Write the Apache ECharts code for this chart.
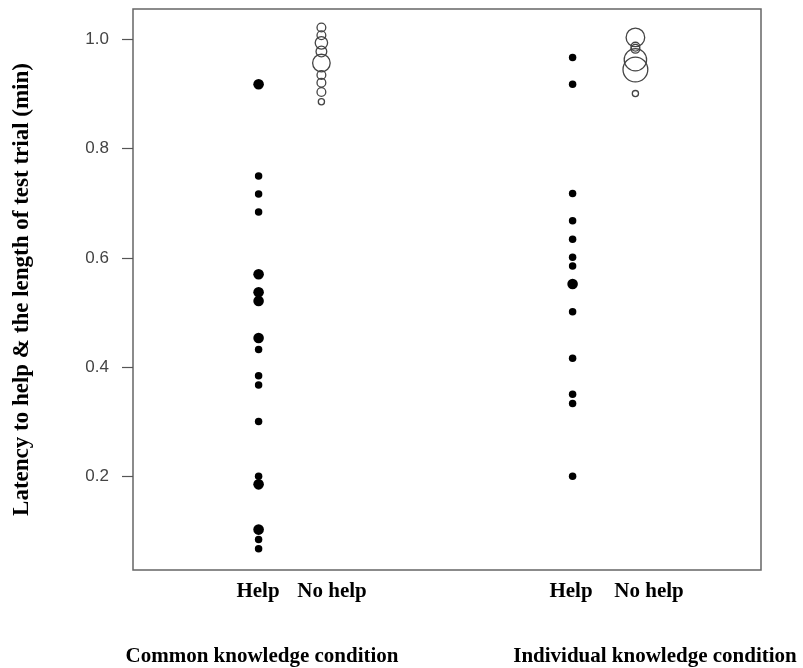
<!DOCTYPE html>
<html>
<head>
<meta charset="utf-8">
<script src="https://cdn.jsdelivr.net/npm/echarts@6/dist/echarts.min.js"></script>
<style>
  html, body { margin: 0; padding: 0; background: #fff; }
  #chart { width: 803px; height: 668px; }
</style>
</head>
<body>
<div id="chart"></div>
<script>
// latency values (min) and number of overlapping observations at each value
const helpCommonY = [0.918, 0.750, 0.717, 0.684, 0.570, 0.537, 0.521, 0.453, 0.432, 0.384, 0.367, 0.300, 0.200, 0.185, 0.102, 0.084, 0.067]
const helpCommonN = [2, 1, 1, 1, 2, 2, 2, 2, 1, 1, 1, 1, 1, 2, 2, 1, 1]
const noHelpCommonY = [1.022, 1.008, 0.994, 0.978, 0.957, 0.935, 0.921, 0.904, 0.886]
const noHelpCommonN = [2, 2, 4, 3, 8, 2, 2, 2, 1]
const helpIndivY = [0.967, 0.918, 0.718, 0.668, 0.634, 0.601, 0.585, 0.552, 0.501, 0.416, 0.350, 0.333, 0.200]
const helpIndivN = [1, 1, 1, 1, 1, 1, 1, 2, 1, 1, 1, 1, 1]
const noHelpIndivY = [1.004, 0.987, 0.983, 0.963, 0.945, 0.901]
const noHelpIndivN = [9, 2, 2, 13, 16, 1]

const yTicks = [0.2, 0.4, 0.6, 0.8, 1.0]
const columnLabels = ['Help', 'No help', 'Help', 'No help']
const conditionLabels = ['Common knowledge condition', 'Individual knowledge condition']
const yTitle = 'Latency to help & the length of test trial (min)'

// column positions on the x axis
const columnX = [0.8, 1.2, 2.8, 3.2]

const serif = '"Liberation Serif", "Times New Roman", serif'

function toPoints(x, ys, ns) {
  return ys.map((y, i) => [x, y, ns[i]])
}

const chart = echarts.init(document.getElementById('chart'))

const filled = {
  type: 'scatter',
  symbol: 'circle',
  symbolSize: v => 7.5 * Math.sqrt(v[2]),
  itemStyle: { color: '#000', opacity: 1 },
  silent: true
}
const hollow = {
  type: 'scatter',
  symbol: 'circle',
  symbolSize: v => 6.2 * Math.sqrt(v[2]),
  itemStyle: { color: 'rgba(0,0,0,0)', borderColor: '#444', borderWidth: 1.3, opacity: 1 },
  silent: true
}

chart.setOption({
  animation: false,
  grid: {
    left: 133, top: 9, right: 42, bottom: 98,
    show: true, borderColor: '#666', borderWidth: 1.5
  },
  xAxis: {
    type: 'value', min: 0, max: 4,
    axisLine: { show: false }, axisTick: { show: false },
    axisLabel: { show: false }, splitLine: { show: false }
  },
  yAxis: {
    type: 'value', min: 0.028, max: 1.056,
    name: yTitle,
    nameLocation: 'middle',
    nameGap: 99,
    nameTextStyle: { fontFamily: serif, fontWeight: 'bold', fontSize: 23, color: '#000' },
    axisLine: { show: false },
    axisTick: { show: true, length: 11, lineStyle: { color: '#555', width: 1.2 }, customValues: yTicks },
    axisLabel: {
      color: '#444', fontSize: 17, margin: 24,
      fontFamily: '"Liberation Sans", Arial, sans-serif',
      customValues: yTicks,
      formatter: v => v.toFixed(1)
    },
    splitLine: { show: false }
  },
  series: [
    Object.assign({ name: 'Help (common)', data: toPoints(columnX[0], helpCommonY, helpCommonN) }, filled),
    Object.assign({ name: 'No help (common)', data: toPoints(columnX[1], noHelpCommonY, noHelpCommonN) }, hollow),
    Object.assign({ name: 'Help (individual)', data: toPoints(columnX[2], helpIndivY, helpIndivN) }, filled),
    Object.assign({ name: 'No help (individual)', data: toPoints(columnX[3], noHelpIndivY, noHelpIndivN) }, hollow)
  ]
})

// text under the plot
const labelX = [258, 332, 571, 649]
const graphics = columnLabels.map((t, i) => ({
  type: 'text', x: labelX[i], y: 592,
  style: { text: t, fontFamily: serif, fontWeight: 'bold', fontSize: 21, fill: '#000', align: 'center', verticalAlign: 'middle' }
}))
const condX = [262, 655]
conditionLabels.forEach((t, i) => {
  graphics.push({
    type: 'text', x: condX[i], y: 657,
    style: { text: t, fontFamily: serif, fontWeight: 'bold', fontSize: 21, fill: '#000', align: 'center', verticalAlign: 'middle' }
  })
})
chart.setOption({ graphic: graphics })
</script>
</body>
</html>
